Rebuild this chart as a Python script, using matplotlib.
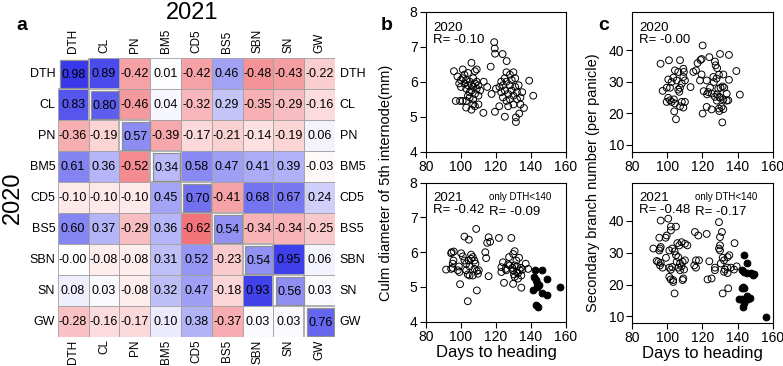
import numpy as np
import matplotlib.pyplot as plt
from matplotlib.colors import LinearSegmentedColormap
from matplotlib.patches import Rectangle

plt.rcParams['font.family'] = ['Liberation Sans', 'DejaVu Sans']

# correlation matrix: upper triangle 2021, lower triangle 2020, diagonal 2020 vs 2021
traits = ['DTH', 'CL', 'PN', 'BM5', 'CD5', 'BS5', 'SBN', 'SN', 'GW']
corr = [
    [0.98, 0.89, -0.42, 0.01, -0.42, 0.46, -0.48, -0.43, -0.22],
    [0.83, 0.80, -0.46, 0.04, -0.32, 0.29, -0.35, -0.29, -0.16],
    [-0.36, -0.19, 0.57, -0.39, -0.17, -0.21, -0.14, -0.19, 0.06],
    [0.61, 0.36, -0.52, 0.34, 0.58, 0.47, 0.41, 0.39, -0.03],
    [-0.10, -0.10, -0.10, 0.45, 0.70, -0.41, 0.68, 0.67, 0.24],
    [0.60, 0.37, -0.29, 0.36, -0.62, 0.54, -0.34, -0.34, -0.25],
    [-0.00, -0.08, -0.08, 0.31, 0.52, -0.23, 0.54, 0.95, 0.06],
    [0.08, 0.03, -0.08, 0.32, 0.47, -0.18, 0.93, 0.56, 0.03],
    [-0.28, -0.16, -0.17, 0.10, 0.38, -0.37, 0.03, 0.03, 0.76],
]

# panel b, 2020: days to heading vs culm diameter
b20_dth = [96, 98, 99, 100, 100, 101, 101, 102, 102, 103, 103, 104, 104, 105, 105, 105, 106, 106, 106,
           107, 107, 107, 108, 108, 108, 108, 109, 109, 109, 110, 110, 110, 111, 104, 106, 107, 97, 99.5,
           101, 103, 103, 112.8, 113, 115, 117, 117.5, 119, 119.3, 119.5, 119.4, 121.9, 120, 123.8, 126.1,
           122, 123, 123, 124, 124, 125, 125, 126, 126, 126, 127, 127, 128, 128, 128, 129, 129, 130, 130,
           130, 131, 131, 131.4, 131.4, 132, 132, 133.3, 133, 134, 134, 135, 136, 125.1, 139, 141.3]
b20_cd = [6.3, 6.15, 5.95, 6.05, 5.85, 6.35, 6.1, 5.95, 6.2, 5.8, 6.05, 5.9, 6.25, 5.7, 6.0, 5.55, 6.54, 5.9,
          5.75, 6.1, 5.85, 5.5, 6.3, 5.95, 5.65, 5.3, 6.0, 5.8, 6.35, 5.9, 5.6, 5.35, 5.75, 5.6, 5.2, 5.35,
          5.45, 5.45, 5.45, 5.45, 5.26, 5.11, 6.0, 5.85, 6.43, 5.65, 7.13, 6.95, 6.8, 5.14, 5.3, 5.8, 6.79,
          6.59, 5.85, 5.7, 6.0, 5.55, 5.9, 6.1, 5.75, 6.27, 5.45, 6.0, 5.65, 5.3, 6.2, 5.9, 5.5, 6.05, 5.75,
          6.27, 5.6, 5.35, 6.1, 5.85, 4.98, 4.85, 5.5, 5.7, 5.09, 5.9, 5.55, 5.35, 5.7, 5.25, 5.0, 6.03, 5.6]

# panel b, 2021
b21_dth = [108.7, 102, 104.5, 115.8, 116.7, 115, 121.7, 128.8, 94.7, 95.9, 94.4, 91.5, 94.4, 95.3, 95.7,
           95.3, 98.8, 98.2, 99.1, 99.5, 100.1, 101.1, 102, 103, 104.5, 105.8, 104.9, 103, 103.9, 104.9,
           106.8, 105.8, 106.8, 107.7, 108.3, 107.7, 109.1, 110.2, 109.7, 109.1, 103.9, 114.4, 113.9, 115.8,
           123.1, 124.6, 129.8, 130.3, 124, 126.9, 127.5, 129.8, 130.7, 127.9, 129.4, 130.7, 132, 131.7,
           133.2, 133.6, 134.2, 135.1, 132.6, 130.7, 132.6, 134.5, 137, 138.4, 134.5, 129.8, 131.7, 125.9,
           125.5, 123.1,
           142.3, 146.1, 149.2, 143, 143.5, 143.2, 146.1, 149.2, 156.6, 143, 144.3, 141.3, 141.8, 144.5]
b21_cd = [6.67, 6.45, 6.36, 6.43, 6.30, 6.27, 6.41, 6.41, 6.0, 6.02, 5.97, 5.5, 5.52, 5.55, 5.76, 5.67, 5.59,
          5.48, 5.43, 5.08, 5.97, 5.88, 5.76, 5.67, 5.76, 5.81, 5.59, 5.48, 5.36, 5.33, 5.33, 5.93, 5.86,
          5.76, 5.67, 5.52, 5.46, 5.48, 5.38, 4.9, 4.59, 5.83, 6.0, 5.31, 5.43, 5.12, 5.09, 5.36, 5.71, 5.65,
          5.86, 5.95, 6.03, 5.62, 5.55, 5.62, 5.59, 5.76, 5.84, 5.48, 5.55, 5.5, 5.4, 5.29, 5.24, 5.33, 5.67,
          5.52, 4.98, 5.48, 5.43, 5.48, 5.52, 5.57,
          5.5, 5.5, 5.22, 5.19, 5.1, 4.99, 4.83, 4.76, 5.0, 4.48, 4.41, 4.9, 5.3, 5.05]

# panel c, 2020: days to heading vs secondary branch number
c20_dth = [96.1, 100.9, 107.2, 97.3, 99.6, 101.5, 100.5, 102.4, 103.4, 105.3, 104.3, 106.2, 109.1, 109.4,
           100.5, 101.5, 103.7, 99.6, 102.4, 104.3, 103.9, 104.9, 107.2, 109.1, 110, 108.2, 106.8, 107.2,
           108.2, 106.2, 109.1, 110, 113.2, 114.8, 116.3, 117.2, 118.9, 118.6, 119.5, 120.1, 120.1, 119.5,
           122.4, 123.9, 127.1, 127.5, 128.4, 124.3, 123.3, 125.2, 126.2, 126.5, 128, 129.4, 130, 135.1,
           131.9, 129, 130.3, 131.5, 132.4, 133.8, 134.7, 128.4, 129.6, 127.1, 128.2, 130, 131.9, 129.4,
           129.6, 130.9, 131.9, 125.2, 122.4, 131.3, 135.1, 139.3, 141.3, 122.6, 120.7, 133.8]
c20_sbn = [35.7, 36.8, 36.8, 27.1, 28.1, 28.1, 30.7, 29.9, 31.3, 30.4, 33.6, 33.1, 34.1, 33.1, 24.9, 24.1,
           24.4, 23.6, 23.6, 23.1, 20.6, 18.1, 22.2, 21.8, 23.6, 23.6, 26.8, 28.1, 29.4, 27.5, 31.5, 30.4,
           28.3, 33.1, 33.6, 35.9, 36.9, 30.4, 37.2, 41.5, 19.9, 32.3, 30.4, 37.8, 36.4, 35.2, 34.3, 28.1,
           26.7, 26.2, 31.5, 29.9, 31.0, 32.2, 38.8, 38.5, 32.3, 27.8, 28.1, 28.5, 28.1, 26.2, 24.1, 26.0,
           25.2, 25.2, 24.0, 24.9, 24.4, 21.5, 20.7, 22.0, 21.3, 21.2, 22.0, 17.1, 30.6, 33.4, 25.9, 26.0,
           27.0, 24.0]

# panel c, 2021
c21_dth = [92, 95.4, 95.4, 95.8, 96.2, 96.2, 99, 99.6, 100.5, 102, 102, 104.9, 93.9, 94.8, 96.2, 95.8,
           97.3, 99.2, 101.1, 102, 102.8, 101.1, 101.9, 103.3, 103.3, 104.1, 101.1, 102.8, 104.1, 105.7,
           106.8, 108.1, 104.9, 106.2, 105.3, 107.2, 108.7, 106.2, 108.1, 107.2, 108.7, 109.1, 110, 111.4,
           110, 109.5, 115.3, 116.3, 116.3, 115.7, 117.6, 118, 122.4, 123.9, 122.9, 125.2, 127.1, 127.1,
           129.4, 130, 131.1, 129.4, 130, 130, 131.5, 132.3, 134.3, 135.3, 132.8, 132.3, 134.2, 134.3,
           131.5, 134.7, 136.2, 138, 138.3, 139.5, 130.4,
           143.8, 145.2, 142.3, 143.7, 145.2, 147.5, 149, 149.6, 142.9, 143.7, 142.5, 141, 142.3, 145.2,
           147.1, 146.1, 143.7, 142.9, 156.2]
c21_sbn = [31.3, 34.7, 30.7, 31.3, 31.8, 40.1, 34.7, 35.4, 40.7, 38.2, 37.0, 38.2, 27.4, 27.1, 26.8, 26.0,
           25.3, 28.4, 25.3, 24.7, 25.5, 22.4, 21.6, 21.4, 20.8, 17.2, 30.7, 31.3, 30.4, 33.0, 32.3, 33.3,
           29.2, 28.6, 27.1, 26.6, 27.1, 25.3, 25.7, 24.5, 21.4, 21.9, 32.8, 32.3, 27.6, 24.7, 26.0, 27.6,
           25.3, 36.5, 35.4, 27.6, 35.9, 27.3, 21.6, 21.9, 25.3, 24.5, 39.6, 34.9, 36.5, 31.3, 32.3, 30.7,
           28.4, 27.6, 28.6, 29.2, 24.7, 24.0, 25.3, 23.6, 17.2, 18.8, 25.3, 24.7, 33.0, 25.7, 26.6,
           29.2, 26.8, 24.5, 24.0, 23.6, 23.6, 22.9, 23.2, 19.1, 18.8, 19.0, 15.6, 15.3, 16.4, 15.9, 15.3,
           14.1, 13.0, 9.7]

fig = plt.figure(figsize=(7.83, 3.66), dpi=100)

# ---------- panel a: heatmap ----------
cmap = LinearSegmentedColormap.from_list('rwb', ['#e8202a', '#ffffff', '#3535ea'])
M = np.array(corr)
n = len(traits)
ax = fig.add_axes([0.0737, 0.0792, 0.3541, 0.7623])
for i in range(n):
    for j in range(n):
        if i == j:
            continue
        ax.add_patch(Rectangle((j, i), 1, 1, facecolor=cmap((M[i, j] + 1) / 2),
                               edgecolor='#a0a0a0', lw=0.6))
        ax.text(j + 0.5, i + 0.52, f'{M[i, j]:.2f}', ha='center', va='center', fontsize=9)

# grey staircase shadows on both sides of the diagonal
ux, uy = [1], [0]
lx, ly = [0], [1]
for k in range(1, n):
    ux += [k, k + 1]
    uy += [k, k]
    lx += [k, k]
    ly += [k, k + 1]
ax.plot(ux, uy, color='#b0b0b0', lw=1.4, zorder=2.5)
ax.plot(lx, ly, color='#b0b0b0', lw=1.4, zorder=2.5)

# diagonal: 2020 vs 2021, set a little off the grid with a white gap
for i in range(n):
    ax.add_patch(Rectangle((i, i), 1, 1, facecolor='white', edgecolor='none', zorder=2))
    ax.add_patch(Rectangle((i + 0.08, i + 0.08), 0.9, 0.9, facecolor=cmap((M[i, i] + 1) / 2),
                           edgecolor='#909090', lw=0.9, zorder=3))
    ax.text(i + 0.53, i + 0.55, f'{M[i, i]:.2f}', ha='center', va='center', fontsize=9, zorder=4)

for k, t in enumerate(traits):
    ax.text(k + 0.5, -0.15, t, rotation=90, ha='center', va='bottom', fontsize=8.5)
    ax.text(k + 0.5, n + 0.08, t, rotation=90, ha='center', va='top', fontsize=8.5)
    ax.text(-0.08, k + 0.5, t, ha='right', va='center', fontsize=9)
    ax.text(n + 0.15, k + 0.5, t, ha='left', va='center', fontsize=9)
ax.set_xlim(0, n)
ax.set_ylim(n, 0)
ax.axis('off')

fig.text(0.246, 0.965, '2021', ha='center', va='center', fontsize=17)
fig.text(0.016, 0.46, '2020', ha='center', va='center', fontsize=17, rotation=90)
fig.text(0.028, 0.93, 'a', ha='center', va='center', fontsize=14, fontweight='bold')
fig.text(0.494, 0.93, 'b', ha='center', va='center', fontsize=14, fontweight='bold')
fig.text(0.771, 0.93, 'c', ha='center', va='center', fontsize=14, fontweight='bold')


def style(a, ylim, yticks):
    a.set_xlim(80, 160)
    a.set_ylim(*ylim)
    a.set_xticks([80, 100, 120, 140, 160])
    a.set_yticks(yticks)
    a.tick_params(direction='out', length=4, width=0.8, labelsize=10, pad=2)
    for s in a.spines.values():
        s.set_linewidth(0.8)


def dots(a, x, y):
    x = np.array(x)
    y = np.array(y)
    late = x >= 140
    a.scatter(x[~late], y[~late], s=24, facecolors='none', edgecolors='black', linewidths=0.7)
    a.scatter(x[late], y[late], s=24, facecolors='black', edgecolors='black', linewidths=0.7)


# ---------- panel b ----------
axb1 = fig.add_axes([0.544, 0.5855, 0.1788, 0.3825])
axb1.scatter(b20_dth, b20_cd, s=24, facecolors='none', edgecolors='black', linewidths=0.7)
style(axb1, (4, 8), [4, 5, 6, 7, 8])
axb1.text(0.05, 0.93, '2020\nR= -0.10', transform=axb1.transAxes, ha='left', va='top',
          fontsize=9.5, linespacing=1.0)

axb2 = fig.add_axes([0.544, 0.121, 0.1788, 0.3798])
dots(axb2, b21_dth, b21_cd)
style(axb2, (4, 8), [4, 5, 6, 7, 8])
axb2.text(0.05, 0.93, '2021\nR= -0.42', transform=axb2.transAxes, ha='left', va='top',
          fontsize=9.5, linespacing=1.0)
axb2.text(0.45, 0.93, 'only DTH<140', transform=axb2.transAxes, ha='left', va='top', fontsize=7)
axb2.text(0.45, 0.83, 'R= -0.09', transform=axb2.transAxes, ha='left', va='top', fontsize=9.5)
axb2.set_xlabel('Days to heading', fontsize=12, labelpad=1)
fig.text(0.493, 0.5, 'Culm diameter of 5th internode(mm)', rotation=90, ha='center', va='center',
         fontsize=10.5)

# ---------- panel c ----------
axc1 = fig.add_axes([0.8075, 0.5855, 0.1793, 0.3825])
axc1.scatter(c20_dth, c20_sbn, s=24, facecolors='none', edgecolors='black', linewidths=0.7)
style(axc1, (7.8, 52.2), [10, 20, 30, 40])
axc1.text(0.05, 0.93, '2020\nR= -0.00', transform=axc1.transAxes, ha='left', va='top',
          fontsize=9.5, linespacing=1.0)

axc2 = fig.add_axes([0.8075, 0.1183, 0.1793, 0.3826])
dots(axc2, c21_dth, c21_sbn)
style(axc2, (8, 52), [10, 20, 30, 40])
axc2.text(0.05, 0.93, '2021\nR= -0.48', transform=axc2.transAxes, ha='left', va='top',
          fontsize=9.5, linespacing=1.0)
axc2.text(0.45, 0.93, 'only DTH<140', transform=axc2.transAxes, ha='left', va='top', fontsize=7)
axc2.text(0.45, 0.83, 'R= -0.17', transform=axc2.transAxes, ha='left', va='top', fontsize=9.5)
axc2.set_xlabel('Days to heading', fontsize=12, labelpad=1)
fig.text(0.757, 0.5, 'Secondary branch number (per panicle)', rotation=90, ha='center', va='center',
         fontsize=10.5)

fig.savefig('out.png', dpi=100)
